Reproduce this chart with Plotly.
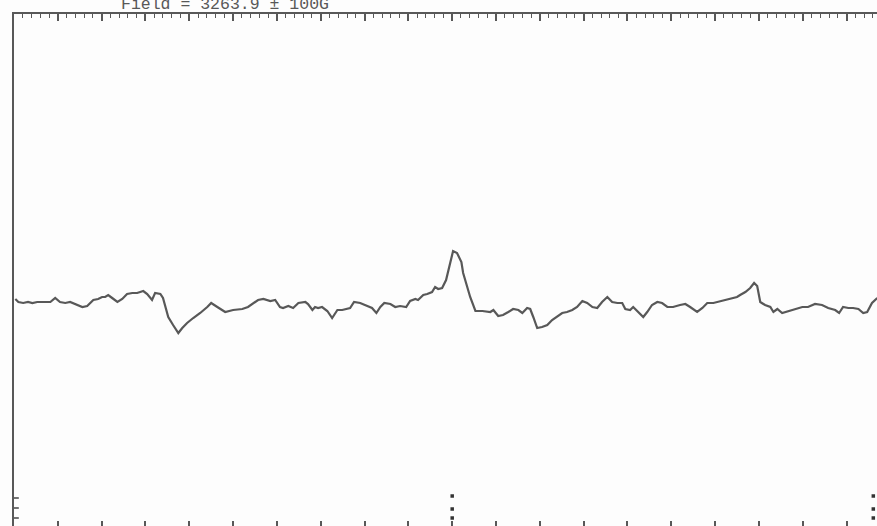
import plotly.graph_objects as go

# EPR sweep: centre field and half-width (gauss)
center_field = 3263.9
sweep_half = 100.0

# Magnetic field (G) of each sampled point of the trace
field = [
    3164.2, 3164.9, 3166.0, 3167.1, 3168.1, 3169.2, 3172.2, 3173.3, 3174.4, 3175.6,
    3176.7, 3177.9, 3179.5, 3180.6, 3182.0, 3183.1, 3184.0, 3184.7, 3185.4, 3186.3,
    3187.5, 3188.6, 3189.7, 3190.9, 3192.0, 3192.7, 3193.4, 3194.3, 3195.4, 3196.1,
    3197.3, 3197.9, 3199.1, 3200.2, 3201.4, 3202.3, 3203.4, 3204.8, 3206.4, 3208.0,
    3208.9, 3210.3, 3212.1, 3213.9, 3216.0, 3217.3, 3219.6, 3220.8, 3222.4, 3223.5,
    3224.6, 3225.3, 3226.5, 3227.6, 3228.8,
    3230.4, 3231.0, 3232.0, 3232.6, 3233.3, 3234.2, 3235.4, 3236.5, 3237.7, 3238.8,
    3240.6, 3241.5, 3242.9, 3244.5, 3245.6, 3246.6, 3247.5, 3248.4, 3249.8, 3250.9,
    3252.0, 3253.4, 3254.3, 3255.5, 3256.1, 3257.3, 3258.2, 3259.3, 3260.0, 3260.7,
    3261.6, 3262.5, 3263.2, 3264.1, 3265.0, 3266.0, 3266.4, 3267.3, 3268.0, 3269.2,
    3270.8, 3272.6, 3273.3, 3274.4, 3275.5, 3276.7, 3277.8, 3279.0, 3279.9, 3281.0,
    3281.7, 3282.4, 3283.3, 3284.4, 3285.6, 3286.7, 3287.9, 3289.0, 3290.1, 3291.3,
    3292.4, 3293.6, 3294.7, 3295.9, 3297.0,
    3298.1, 3299.3, 3300.4, 3301.6, 3302.7, 3303.4, 3304.5, 3305.2, 3306.3, 3307.5,
    3308.4, 3309.5, 3310.7, 3311.8, 3313.0, 3314.3, 3315.9, 3317.1, 3318.2, 3319.8,
    3321.0, 3322.1, 3323.5, 3325.1, 3326.7, 3327.8, 3328.9, 3329.6, 3330.8, 3331.9,
    3332.8, 3333.5, 3334.2, 3335.3, 3336.5, 3337.2, 3338.1, 3339.2, 3340.6, 3342.2,
    3343.8, 3345.1, 3346.7, 3348.3, 3349.7, 3351.3, 3352.2, 3353.1, 3354.3, 3355.4,
    3356.6, 3357.7, 3358.6, 3359.7, 3360.9,
]

# First-derivative signal (arbitrary units, relative to baseline)
signal = [
    6, 3, 2, 3, 2, 3, 3, 7, 3, 2,
    3, 1, -2, -1, 5, 6, 8, 8, 10, 7,
    3, 6, 11, 12, 12, 13, 14, 11, 5, 12,
    11, 7, -12, -20, -28, -23, -18, -13, -8, -2,
    2, -2, -7, -5, -4, -2, 5, 6, 4, 5,
    -2, -3, -1, -3, 2,
    3, 1, -5, -2, -3, -2, -6, -13, -5, -5,
    -3, 3, 2, -1, -3, -8, -2, 2, 1, -2,
    -1, -2, 4, 6, 5, 10, 11, 13, 18, 16,
    17, 25, 38, 54, 52, 43, 32, 18, 8, -6,
    -6, -7, -5, -11, -10, -7, -4, -5, -8, -3,
    -4, -12, -23, -22, -20, -15, -11, -8, -7, -5,
    -2, 4, 2, -2, -3,
    3, 8, 3, 2, 2, -4, -5, -2, -7, -12,
    -7, 0, 3, 2, -2, -2, 0, 1, -2, -7,
    -3, 2, 2, 4, 6, 7, 8, 10, 13, 17,
    22, 19, 3, 0, -2, -7, -4, -8, -6, -4,
    -2, -2, 1, 0, -3, -5, -8, -2, -3, -3,
    -4, -8, -7, 2, 7,
]

# Cursor marks drawn near the bottom of the frame
cursor_fields = [3263.9, 3263.9, 3263.9, 3360.0, 3360.0, 3360.0]
cursor_levels = [-191, -204, -213, -191, -204, -213]
marker_fields = [3164.2, 3164.2, 3164.2]
marker_levels = [-193, -203, -213]

ink = "#585858"
x_lo = center_field - sweep_half
x_hi = x_lo + 863 / 4.382

fig = go.Figure()
fig.add_trace(go.Scatter(
    x=field, y=signal, mode="lines",
    line=dict(color=ink, width=2.2), hoverinfo="skip", showlegend=False,
))
fig.add_trace(go.Scatter(
    x=cursor_fields, y=cursor_levels, mode="markers", xaxis="x2",
    marker=dict(symbol="square", size=3.5, color="#333"),
    hoverinfo="skip", showlegend=False,
))
fig.add_trace(go.Scatter(
    x=marker_fields, y=marker_levels, mode="markers", xaxis="x2",
    marker=dict(symbol="line-ew", size=5, line=dict(width=1.5, color="#444")),
    hoverinfo="skip", showlegend=False,
))

fig.add_annotation(
    text="Field = 3263.9 ± 100G", xref="paper", yref="paper",
    x=(225 - 14) / 863, y=1 - 2.5 / 512, xanchor="center", yanchor="bottom",
    showarrow=False, font=dict(family="Liberation Mono", size=16.5, color=ink),
)

fig.update_layout(
    width=877, height=526,
    margin=dict(l=14, r=0, t=14, b=0),
    paper_bgcolor="#fdfdfd", plot_bgcolor="#fdfdfd",
    xaxis=dict(
        range=[x_lo, x_hi], side="top", showgrid=False, zeroline=False,
        showline=True, linecolor=ink, linewidth=2,
        ticks="inside", tick0=x_lo, dtick=10, ticklen=7, tickwidth=1.5,
        tickcolor=ink, showticklabels=False,
        minor=dict(ticks="inside", tick0=x_lo, dtick=2, ticklen=4,
                   tickwidth=1, tickcolor=ink, showgrid=False),
    ),
    xaxis2=dict(
        range=[x_lo, x_hi], overlaying="x", side="bottom", anchor="y",
        showgrid=False, zeroline=False, showline=False,
        ticks="inside", tick0=x_lo, dtick=10, ticklen=5, tickwidth=1.5,
        tickcolor=ink, showticklabels=False,
    ),
    yaxis=dict(
        range=[-221, 291], showgrid=False, zeroline=False,
        showline=True, linecolor=ink, linewidth=2,
        ticks="", showticklabels=False,
    ),
)

fig.write_html("out.html")
